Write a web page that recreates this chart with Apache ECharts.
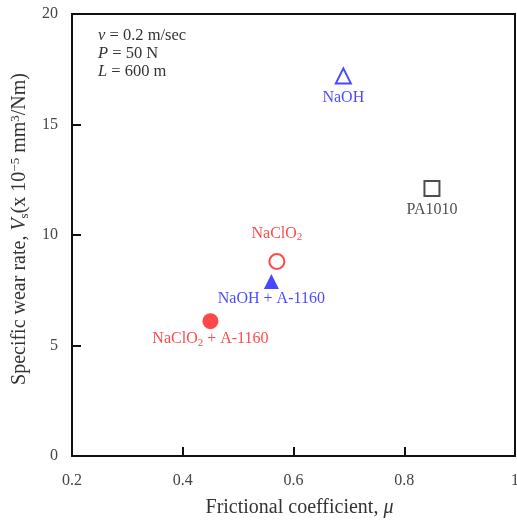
<!DOCTYPE html>
<html>
<head>
<meta charset="utf-8">
<script src="https://cdn.jsdelivr.net/npm/echarts@6/dist/echarts.min.js"></script>
<style>
  html, body { margin: 0; padding: 0; background: #fff; }
  #chart { width: 517px; height: 522px; }
</style>
</head>
<body>
<div id="chart"></div>
<script>
// 数据
const sampleNames = ['PA1010', 'NaOH', 'NaClO2', 'NaOH + A-1160', 'NaClO2 + A-1160'];
const frictionCoef = [0.85, 0.69, 0.57, 0.56, 0.45];
const wearRate = [12.1, 17.2, 8.8, 7.9, 6.1];
const xTicks = [0.2, 0.4, 0.6, 0.8, 1];
const yTicks = [0, 5, 10, 15, 20];

// 每个样本的标记样式
const markerStyles = [
    { symbol: 'rect', size: 15, color: '#222', filled: false, labelPos: 'bottom', labelDist: 5 },
    { symbol: 'triangle', size: 15, color: '#1a1aff', filled: false, labelPos: 'bottom', labelDist: 5 },
    { symbol: 'circle', size: 15, color: '#ff1a1a', filled: false, labelPos: 'top', labelDist: 10 },
    { symbol: 'triangle', size: 15, color: '#1a1aff', filled: true, labelPos: 'bottom', labelDist: 2 },
    { symbol: 'circle', size: 16, color: '#ff1a1a', filled: true, labelPos: 'bottom', labelDist: 1 },
];

const serifFont = '"Liberation Serif", "Times New Roman", serif';

// NaClO2 的下标用 rich text 画
const richLabel = (name) => name.replace(/ClO2/g, 'ClO{sub|2}');

const chart = echarts.init(document.getElementById('chart'));

chart.setOption({
    animation: false,
    backgroundColor: '#fff',
    textStyle: { fontFamily: serifFont },
    title: {
        left: 93,
        top: 22,
        text: '{i|v} = 0.2 m/sec\n{i|P} = 50 N\n{i|L} = 600 m',
        textStyle: {
            fontFamily: serifFont,
            fontSize: 16.5,
            fontWeight: 'normal',
            color: '#333',
            lineHeight: 18,
            rich: {
                i: { fontStyle: 'italic', fontFamily: serifFont, fontSize: 16.5, color: '#333', lineHeight: 18 },
            },
        },
    },
    grid: {
        left: 72,
        right: 2,
        top: 14,
        bottom: 66,
        outerBoundsMode: 'none',
        containLabel: false,
        show: true,
        borderColor: '#111',
        borderWidth: 2,
        backgroundColor: 'transparent',
    },
    xAxis: {
        type: 'value',
        min: xTicks[0],
        max: xTicks[xTicks.length - 1],
        interval: 0.2,
        name: 'Frictional coefficient, {i|μ}',
        nameLocation: 'middle',
        nameGap: 42,
        nameTextStyle: {
            fontFamily: serifFont,
            fontSize: 20,
            color: '#333',
            padding: [0, 0, 0, 12],
            rich: { i: { fontStyle: 'italic', fontFamily: serifFont, fontSize: 20, color: '#333' } },
        },
        axisLine: { lineStyle: { color: '#111', width: 2 } },
        axisTick: { inside: true, length: 9, lineStyle: { color: '#111', width: 2 } },
        axisLabel: {
            margin: 17,
            fontFamily: serifFont,
            fontSize: 16,
            color: '#444',
            formatter: (v) => String(Math.round(v * 10) / 10),
        },
        splitLine: { show: false },
    },
    yAxis: {
        type: 'value',
        min: yTicks[0],
        max: yTicks[yTicks.length - 1],
        interval: 5,
        name: 'Specific wear rate, {i|V}{sub|s}(x 10{sup|−5} mm{sup|3}/Nm)',
        nameLocation: 'middle',
        nameRotate: 90,
        nameGap: 40,
        nameTextStyle: {
            fontFamily: serifFont,
            fontSize: 20,
            color: '#333',
            padding: [0, 0, 0, 12],
            rich: {
                i: { fontStyle: 'italic', fontFamily: serifFont, fontSize: 20, color: '#333' },
                sub: { fontFamily: serifFont, fontSize: 13, color: '#333', verticalAlign: 'bottom', padding: [9, 0, 0, 0] },
                sup: { fontFamily: serifFont, fontSize: 13, color: '#333', verticalAlign: 'top', padding: [0, 0, 9, 0] },
            },
        },
        axisLine: { lineStyle: { color: '#111', width: 2 } },
        axisTick: { inside: true, length: 9, lineStyle: { color: '#111', width: 2 } },
        axisLabel: { margin: 14, fontFamily: serifFont, fontSize: 16, color: '#444' },
        splitLine: { show: false },
    },
    series: sampleNames.map((name, i) => {
        const m = markerStyles[i];
        return {
            name: name,
            type: 'scatter',
            symbol: m.symbol,
            symbolSize: m.size,
            data: [[frictionCoef[i], wearRate[i]]],
            itemStyle: m.filled
                ? { color: m.color }
                : { color: '#fff', borderColor: m.color, borderWidth: 2 },
            label: {
                show: true,
                position: m.labelPos,
                distance: m.labelDist,
                formatter: richLabel(name),
                fontFamily: serifFont,
                fontSize: 16,
                color: m.color,
                rich: {
                    sub: { fontFamily: serifFont, fontSize: 11, color: m.color, verticalAlign: 'bottom', padding: [7, 0, 0, 0] },
                },
            },
        };
    }),
});
</script>
</body>
</html>
